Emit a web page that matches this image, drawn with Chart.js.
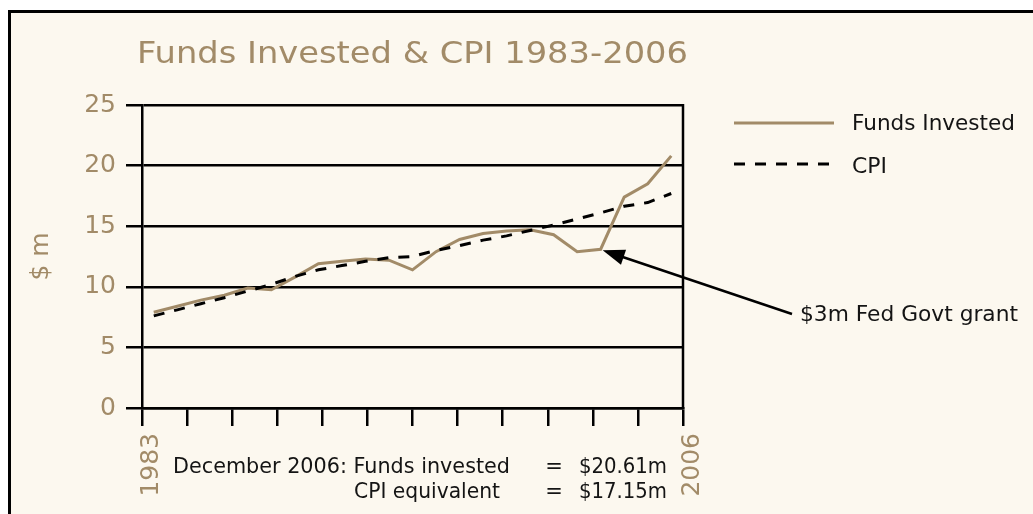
<!DOCTYPE html>
<html lang="en">
<head>
<meta charset="UTF-8">
<title>Funds Invested &amp; CPI 1983-2006</title>
<script src="https://cdn.jsdelivr.net/npm/chart.js"></script>
<style>
  html, body { margin: 0; padding: 0; background: #fff; }
</style>
</head>
<body>
<canvas id="fundsChart" width="1033" height="514"></canvas>
<script>
// values at December of each year
const years = [1984, 1985, 1986, 1987, 1988, 1989, 1990, 1991, 1992, 1993, 1994, 1995,
               1996, 1997, 1998, 1999, 2000, 2001, 2002, 2003, 2004, 2005, 2006];
const fundsInvested = [7.9, 8.4, 8.9, 9.3, 9.9, 9.75, 10.8, 11.9, 12.1, 12.3, 12.2, 11.4,
                       12.9, 13.9, 14.4, 14.6, 14.7, 14.3, 12.9, 13.1, 17.4, 18.5, 20.8];
const cpi = [7.6, 8.1, 8.6, 9.1, 9.65, 10.2, 10.85, 11.4, 11.75, 12.1, 12.4, 12.5,
             13.0, 13.4, 13.85, 14.2, 14.65, 15.1, 15.6, 16.1, 16.65, 16.95, 17.7];
const xTickLabels = ['1983', '', '', '', '', '', '', '', '', '', '', '', '2006'];
const grantYear = 2003;

const tan = '#a28b68';
const ink = '#141414';
const fontFamily = "'DejaVu Sans', sans-serif";

function fitText(ctx, str, x, y, width, size, color) {
  ctx.font = size + 'px ' + fontFamily;
  ctx.fillStyle = color;
  ctx.textAlign = 'left';
  ctx.textBaseline = 'alphabetic';
  const w = ctx.measureText(str).width;
  ctx.save();
  ctx.translate(x, y);
  ctx.scale(width / w, 1);
  ctx.fillText(str, 0, 0);
  ctx.restore();
}

const decor = {
  id: 'decor',
  beforeDraw(chart) {
    const ctx = chart.ctx;
    ctx.save();
    ctx.fillStyle = '#fff';
    ctx.fillRect(0, 0, chart.width, chart.height);
    ctx.fillStyle = '#fcf8ef';
    ctx.fillRect(8, 10, chart.width, chart.height);
    ctx.strokeStyle = '#000';
    ctx.lineWidth = 3;
    ctx.strokeRect(9.5, 11.5, chart.width + 20, chart.height + 20);
    ctx.restore();
  },
  afterDraw(chart) {
    const ctx = chart.ctx;
    const area = chart.chartArea;
    ctx.save();

    // right frame of the plot
    ctx.strokeStyle = '#000';
    ctx.lineWidth = 2.5;
    ctx.beginPath();
    ctx.moveTo(area.right, area.top - 1);
    ctx.lineTo(area.right, area.bottom + 1);
    ctx.stroke();

    // title
    fitText(ctx, 'Funds Invested & CPI 1983-2006', 137, 63, 551, 30, tan);

    // legend
    const ds = chart.data.datasets;
    const rows = [{ y: 123, textY: 129.5, width: 163 }, { y: 164, textY: 172.5, width: 35 }];
    ds.forEach((d, i) => {
      ctx.strokeStyle = d.borderColor;
      ctx.lineWidth = d.borderWidth;
      ctx.setLineDash(d.borderDash || []);
      ctx.beginPath();
      ctx.moveTo(734, rows[i].y);
      ctx.lineTo(834, rows[i].y);
      ctx.stroke();
      ctx.setLineDash([]);
      fitText(ctx, d.label, 852, rows[i].textY, rows[i].width, 21, ink);
    });

    // grant annotation
    const pt = chart.getDatasetMeta(0).data[years.indexOf(grantYear)];
    const sx = 792, sy = 314;
    const tx = pt.x + 2, ty = pt.y + 1;
    const ang = Math.atan2(ty - sy, tx - sx);
    ctx.strokeStyle = '#000';
    ctx.lineWidth = 2.5;
    ctx.beginPath();
    ctx.moveTo(sx, sy);
    ctx.lineTo(tx - 18 * Math.cos(ang), ty - 18 * Math.sin(ang));
    ctx.stroke();
    ctx.fillStyle = '#000';
    ctx.beginPath();
    ctx.moveTo(tx, ty);
    ctx.lineTo(tx - 22 * Math.cos(ang) + 8 * Math.sin(ang), ty - 22 * Math.sin(ang) - 8 * Math.cos(ang));
    ctx.lineTo(tx - 22 * Math.cos(ang) - 8 * Math.sin(ang), ty - 22 * Math.sin(ang) + 8 * Math.cos(ang));
    ctx.closePath();
    ctx.fill();
    fitText(ctx, '$3m Fed Govt grant', 800, 321, 218, 21, ink);

    // note under the axis
    fitText(ctx, 'December 2006: Funds invested', 173, 473, 337, 21, ink);
    fitText(ctx, '$20.61m', 579, 473, 88, 21, ink);
    fitText(ctx, 'CPI equivalent', 354, 498, 146, 21, ink);
    fitText(ctx, '$17.15m', 579, 498, 88, 21, ink);
    ctx.font = '21px ' + fontFamily;
    ctx.textAlign = 'center';
    ctx.fillText('=', 554, 473);
    ctx.fillText('=', 554, 498);

    ctx.restore();
  }
};

const ctx = document.getElementById('fundsChart').getContext('2d');
new Chart(ctx, {
  type: 'line',
  data: {
    datasets: [
      {
        label: 'Funds Invested',
        data: years.map((yr, i) => ({ x: yr - 0.5, y: fundsInvested[i] })),
        borderColor: tan,
        borderWidth: 3,
        pointRadius: 0,
        tension: 0,
        order: 1
      },
      {
        label: 'CPI',
        data: years.map((yr, i) => ({ x: yr - 0.5, y: cpi[i] })),
        borderColor: '#000',
        borderWidth: 3,
        borderDash: [11, 10],
        pointRadius: 0,
        tension: 0,
        order: 0
      }
    ]
  },
  options: {
    responsive: false,
    animation: false,
    layout: { padding: { left: 10, top: 105, right: 350, bottom: 0 } },
    plugins: {
      legend: { display: false },
      tooltip: { enabled: false }
    },
    scales: {
      x: {
        type: 'linear',
        min: 1983,
        max: 2006,
        afterBuildTicks: (scale) => {
          scale.ticks = xTickLabels.map((_, i) => ({ value: 1983 + i * 23 / (xTickLabels.length - 1) }));
        },
        afterFit: (scale) => { scale.height = 106; },
        ticks: {
          autoSkip: false,
          minRotation: 90,
          maxRotation: 90,
          padding: 7,
          labelOffset: 9,
          color: tan,
          font: { family: fontFamily, size: 25 },
          callback: (v, i) => xTickLabels[i]
        },
        grid: { drawOnChartArea: false, drawTicks: true, tickLength: 18, color: '#000', lineWidth: 2.5 },
        border: { display: true, color: '#000', width: 2.5 }
      },
      y: {
        min: 0,
        max: 25,
        afterFit: (scale) => { scale.width = 132; },
        ticks: {
          stepSize: 5,
          padding: 10,
          color: tan,
          font: { family: fontFamily, size: 25 }
        },
        grid: { color: '#000', lineWidth: 2.5, tickLength: 16 },
        border: { color: '#000', width: 2.5 },
        title: {
          display: true,
          text: '$ m',
          color: tan,
          font: { family: fontFamily, size: 25 },
          padding: { top: 16, bottom: 0 }
        }
      }
    }
  },
  plugins: [decor]
});
</script>
</body>
</html>
